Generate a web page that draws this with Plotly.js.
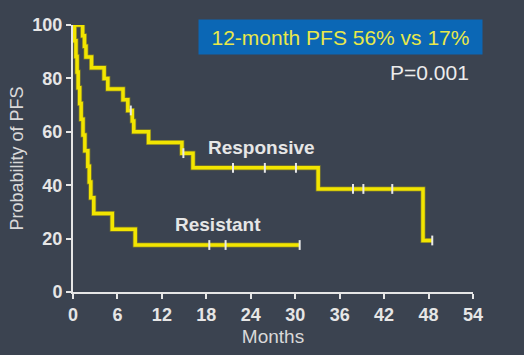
<!DOCTYPE html>
<html>
<head>
<meta charset="utf-8">
<script src="https://cdn.plot.ly/plotly-3.0.1.min.js"></script>
<style>
html,body{margin:0;padding:0;background:#3b4350;}
#chart{width:524px;height:355px;}
</style>
</head>
<body>
<div id="chart"></div>
<script>
// Kaplan-Meier data (months, % PFS)
var respTimes = [0, 1.3, 1.55, 1.75, 2.5, 4.2, 4.7, 6.75, 7.4, 8.0, 8.2, 10.2, 14.7, 16.2, 33.1, 47.25, 48.5];
var respSurv  = [100, 96, 92, 88, 84, 80, 76, 72, 68, 64, 60, 56, 52, 46.5, 38.6, 19.3, 19.3];
var respCensT = [7.8, 14.9, 21.6, 25.9, 30.1, 37.8, 39.2, 43.1, 48.5];
var respCensS = [68, 52, 46.5, 46.5, 46.5, 38.6, 38.6, 38.6, 19.3];

var resTimes = [0, 0.2, 0.4, 0.55, 0.7, 0.9, 1.1, 1.35, 1.6, 2.0, 2.2, 2.4, 2.8, 5.3, 8.4, 30.6];
var resSurv  = [100, 94.1, 88.2, 82.4, 76.5, 70.6, 64.7, 58.8, 52.9, 47.1, 41.2, 35.3, 29.4, 23.5, 17.6, 17.6];
var resCensT = [18.4, 20.6, 30.6];
var resCensS = [17.6, 17.6, 17.6];

var xTicks = [0, 6, 12, 18, 24, 30, 36, 42, 48, 54];
var yTicks = [0, 20, 40, 60, 80, 100];

var lineCol = '#f2e500';
var edgeCol = '#7d7a2a';
var tickCol = '#e6e6e6';

function curve(x, y, col, w) {
  return {x: x, y: y, type: 'scatter', mode: 'lines', line: {shape: 'hv', color: col, width: w},
          cliponaxis: false, hoverinfo: 'skip', showlegend: false};
}
function cens(x, y) {
  return {x: x, y: y, type: 'scatter', mode: 'markers', cliponaxis: false, showlegend: false,
          marker: {symbol: 'line-ns', size: 7, line: {color: '#e8e8e8', width: 2}}};
}

var data = [
  curve(respTimes, respSurv, edgeCol, 5),
  curve(resTimes, resSurv, edgeCol, 5),
  curve(respTimes, respSurv, lineCol, 3.5),
  curve(resTimes, resSurv, lineCol, 3.5),
  cens(respCensT, respCensS),
  cens(resCensT, resCensS)
];

var fontFam = '"Liberation Sans", Arial, sans-serif';

var layout = {
  width: 524, height: 355,
  paper_bgcolor: '#3b4350', plot_bgcolor: '#3b4350',
  margin: {l: 73, r: 51, t: 25, b: 63},
  font: {family: fontFam, color: tickCol},
  xaxis: {
    range: [0, 54], tickvals: xTicks, ticktext: xTicks.map(String),
    showgrid: false, zeroline: false, showline: true, linecolor: '#e6e6e6', linewidth: 2,
    ticks: 'outside', ticklen: 5, tickwidth: 2, tickcolor: '#e6e6e6',
    tickfont: {family: fontFam, size: 18, color: tickCol, weight: 'bold'},
    title: {text: 'Months', font: {family: fontFam, size: 19, color: '#d9d9d9'}, standoff: 6}
  },
  yaxis: {
    range: [0, 100], tickvals: yTicks, ticktext: yTicks.map(String),
    showgrid: false, zeroline: false, showline: true, linecolor: '#e6e6e6', linewidth: 2,
    ticks: 'outside', ticklen: 5, tickwidth: 2, tickcolor: '#e6e6e6',
    tickfont: {family: fontFam, size: 18, color: tickCol, weight: 'bold'},
    title: {text: 'Probability of PFS', font: {family: fontFam, size: 18, color: '#d9d9d9'}, standoff: 4}
  },
  annotations: [
    {x: 340, y: 37, xref: 'paper', yref: 'paper', text: '12-month PFS 56% vs 17%', showarrow: false,
     font: {family: fontFam, size: 21, color: '#e8e84a'}, bgcolor: '#0b67b5',
     width: 283, height: 34, borderpad: 0},
    {x: 471, y: 72, text: 'P=0.001', showarrow: false, xanchor: 'right',
     font: {family: fontFam, size: 21, color: '#ececec'}},
    {x: 261, y: 147, text: '<b>Responsive</b>', showarrow: false,
     font: {family: fontFam, size: 19, color: '#e6e6e6'}},
    {x: 218, y: 224, text: '<b>Resistant</b>', showarrow: false,
     font: {family: fontFam, size: 19, color: '#e6e6e6'}}
  ]
};

// convert pixel positions for annotations into data coordinates
(function(){
  var L = 73, T = 25, W = 400, H = 267;
  layout.annotations.forEach(function(a){
    a.xref = 'x'; a.yref = 'y';
    a.x = (a.x - L) / W * 54;
    a.y = (T + H - a.y) / H * 100;
  });
})();

Plotly.newPlot('chart', data, layout, {displayModeBar: false, staticPlot: true});
</script>
</body>
</html>
